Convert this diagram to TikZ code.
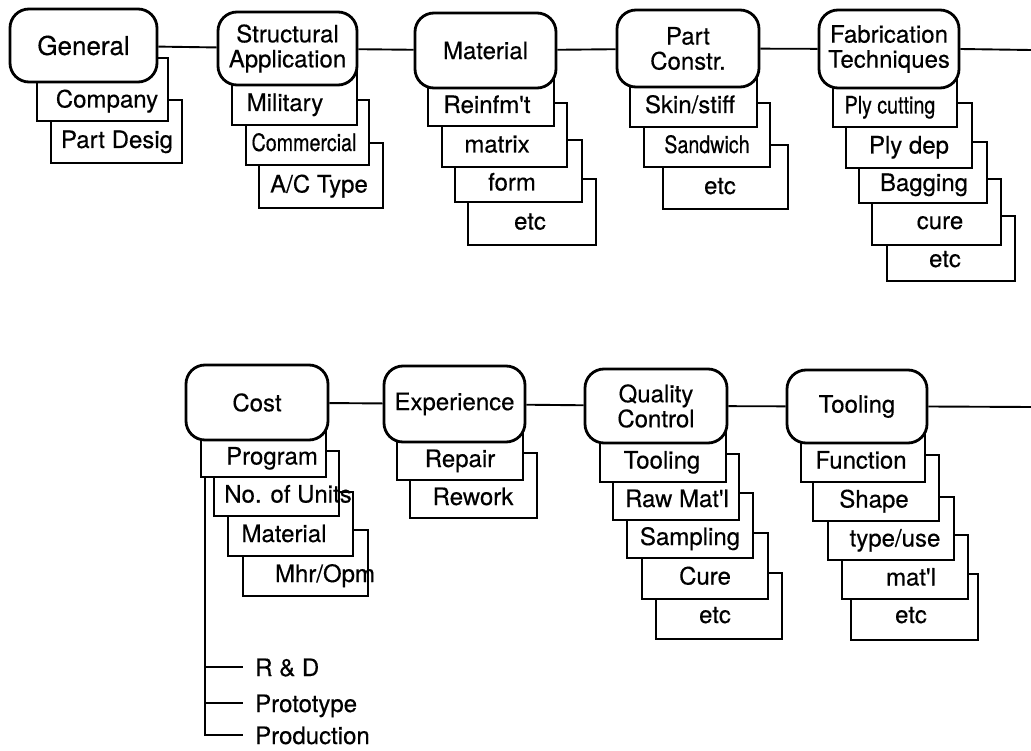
\documentclass[tikz,border=0pt]{standalone}
\usepackage{fontspec}
\setmainfont{TeX Gyre Heros}[FakeBold=0.35]
\newfontfamily\condfont{TeX Gyre Heros}[FakeStretch=0.82,FakeBold=0.35]
\newcommand{\MainB}[6]{\node[mainbx, minimum width={(#4-#2)*1pt}, minimum height={(#5-#3)*1pt}] (#1) at ({(#2+#4)/2},{(#3+#5)/2}) {#6};}
\newcommand{\SubB}[9]{%
  \node[subbx, minimum width={(#4-#2)*1pt}, minimum height={(#5-#3)*1pt}] (#1) at ({(#2+#4)/2},{(#3+#5)/2}) {};
  \node[lbl,#8] (#1-t) at (#6,#7) {#9};}
\begin{document}
\begin{tikzpicture}[x=1pt,y=-1pt,
  mainbx/.style={draw, line width=2.8pt, rounded corners=19pt, fill=white, align=center, inner sep=0pt, font=\fontsize{24}{25}\selectfont},
  subbx/.style={draw, line width=1.9pt, fill=white, inner sep=0pt},
  lbl/.style={inner sep=0pt, text height=12pt, text depth=0pt, font=\fontsize{24}{25}\selectfont},
  small/.style={font=\condfont\fontsize{24}{25}\selectfont},
  treelbl/.style={inner sep=0pt, anchor=west, text height=18pt, text depth=0pt, font=\fontsize{24}{25}\selectfont},
  conn/.style={line width=1.9pt}]
\useasboundingbox (0,0) rectangle (1031,751);
% ---------- top row ----------
% General
\SubB{pdesig}{51}{100}{182}{163}{117}{142}{}{Part Desig}
\SubB{company}{37}{58}{168}{121}{107}{101.5}{}{Company}
\MainB{gen}{10}{9}{157}{82}{\fontsize{26}{26}\selectfont General}
% Structural Application
\SubB{actype}{259}{143}{383}{208}{319}{186.5}{}{A/C Type}
\SubB{commercial}{246}{100}{369}{165}{304}{145}{small}{Commercial}
\SubB{military}{232}{60}{357}{125}{285}{105}{}{Military}
\MainB{sa}{218}{12}{357}{85}{Structural\\Application}
% Material
\SubB{matetc}{468}{179}{596}{245}{530}{223.5}{}{etc}
\SubB{form}{455}{140}{582}{202}{512}{184.5}{}{form}
\SubB{matrix}{442}{103}{567}{167}{497}{146.5}{}{matrix}
\SubB{reinf}{428}{60}{554}{126}{487}{107}{}{Reinfm\textquotesingle t}
\MainB{mat}{415}{13}{556}{88}{Material}
% Part Constr.
\SubB{pcetc}{663}{145}{788}{209}{720}{188}{}{etc}
\SubB{sandwich}{644}{103}{770}{167}{707}{147}{small}{Sandwich}
\SubB{skin}{630}{60}{757}{127}{690}{107}{}{Skin/stiff}
\MainB{pc}{617}{10}{759}{87}{Part\\Constr.}
% Fabrication Techniques
\SubB{fabetc}{887}{216}{1015}{281}{945}{261}{}{etc}
\SubB{cure}{872}{179}{1001}{245}{940}{223}{}{cure}
\SubB{bagging}{859}{142}{987}{203}{924}{185}{}{Bagging}
\SubB{plydep}{846}{103}{972}{168}{909}{147.5}{}{Ply dep}
\SubB{plycut}{833}{60}{957}{127}{890}{107.5}{small}{Ply cutting}
\MainB{fab}{819}{10}{959}{88}{Fabrication\\Techniques}
\coordinate (edge1) at (1031,50);
\draw[conn] (gen) -- (sa);
\draw[conn] (sa) -- (mat);
\draw[conn] (mat) -- (pc);
\draw[conn] (pc) -- (fab);
\draw[conn] (fab.east) -- (edge1);
% ---------- bottom row ----------
% Cost
\coordinate (corner) at (205,735);
\node[treelbl] (rd) at (255,667) {R \& D};
\node[treelbl] (proto) at (255,703) {Prototype};
\node[treelbl] (prod) at (255,735) {Production};
\SubB{mhr}{243}{530}{368}{596}{325}{576}{}{Mhr/Opm}
\SubB{cmat}{228}{492}{353}{556}{284}{536}{}{Material}
\SubB{units}{214}{451}{339}{516}{288}{496.5}{}{No. of Units}
\SubB{program}{201}{415}{326}{477}{272}{458.5}{}{Program}
\MainB{cost}{186}{365}{328}{440}{Cost}
\draw[conn] (program.south -| corner) -- (corner) -- ([xshift=-12pt]prod.west);
\draw[conn] (rd.west -| corner) -- ([xshift=-12pt]rd.west);
\draw[conn] (proto.west -| corner) -- ([xshift=-12pt]proto.west);
% Experience
\SubB{rework}{410}{453}{537}{518}{473}{499}{}{Rework}
\SubB{repair}{397}{415}{523}{480}{460}{461}{}{Repair}
\MainB{exp}{384}{366}{525}{442}{Experience}
% Quality Control
\SubB{qcetc}{656}{573}{782}{639}{715}{617}{}{etc}
\SubB{qccure}{642}{533}{768}{599}{705}{578.5}{}{Cure}
\SubB{sampling}{627}{493}{753}{558}{690}{539}{}{Sampling}
\SubB{rawmat}{613}{454}{739}{520}{677}{501}{}{Raw Mat\textquotesingle l}
\SubB{qctool}{600}{415}{726}{482}{662}{462.5}{}{Tooling}
\MainB{qc}{585}{369}{727}{443}{Quality\\Control}
% Tooling
\SubB{tletc}{851}{574}{978}{640}{911}{617}{}{etc}
\SubB{tlmat}{842}{535}{968}{599}{911}{579.5}{}{mat\textquotesingle l}
\SubB{typeuse}{828}{497}{954}{560}{895}{540.5}{}{type/use}
\SubB{shape}{813}{455}{939}{521}{874}{501.5}{}{Shape}
\SubB{function}{801}{415}{925}{482}{861}{462.5}{}{Function}
\MainB{tool}{787}{370}{927}{443}{Tooling}
\coordinate (edge2) at (1031,407);
\draw[conn] (cost) -- (exp);
\draw[conn] (exp) -- (qc);
\draw[conn] (qc) -- (tool);
\draw[conn] (tool.east) -- (edge2);
\end{tikzpicture}
\end{document}
